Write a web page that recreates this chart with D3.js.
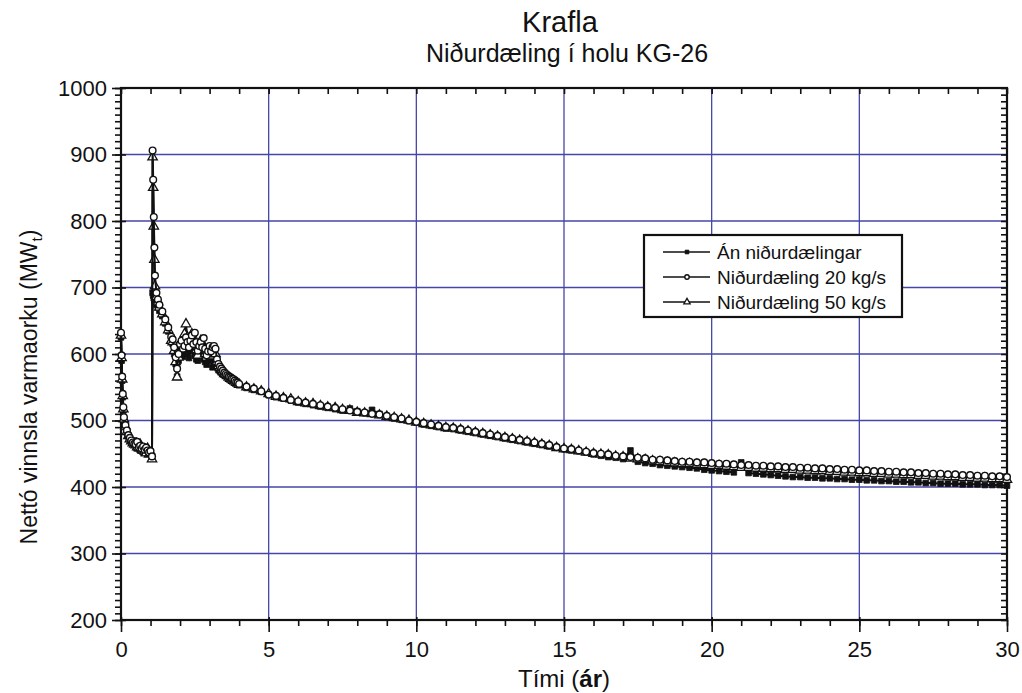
<!DOCTYPE html>
<html>
<head>
<meta charset="utf-8">
<script src="https://d3js.org/d3.v7.min.js"></script>
<style>
  body { margin: 0; background: #fff; }
  text { font-family: "Liberation Sans", Arial, sans-serif; fill: #111; }
</style>
</head>
<body>
<svg width="1022" height="693"></svg>
<script>
// time in years, shared by all three runs
var years = [0, 0.02, 0.04, 0.06, 0.08, 0.1, 0.15, 0.2, 0.25, 0.3, 0.35, 0.4, 0.45, 0.5, 0.55, 0.6, 0.65, 0.7, 0.75, 0.8, 0.85, 0.9, 0.95, 1.0, 1.05,
  1.07, 1.09, 1.11, 1.13, 1.15, 1.2, 1.25, 1.3, 1.4, 1.5, 1.6, 1.7,
  1.75, 1.8, 1.85, 1.9, 1.95, 2.0, 2.05, 2.1, 2.15, 2.2, 2.25, 2.3, 2.35, 2.4, 2.45, 2.5, 2.55, 2.6, 2.65, 2.7, 2.75, 2.8, 2.85, 2.9, 2.95,
  3.0, 3.05, 3.1, 3.15, 3.2, 3.25, 3.3, 3.35, 3.4, 3.45, 3.5, 3.55, 3.6, 3.65, 3.7, 3.75, 3.8, 3.85, 3.9, 3.95, 4.0,
  4.25, 4.5, 4.75, 5, 5.25, 5.5, 5.75, 6, 6.25, 6.5, 6.75, 7, 7.25, 7.5, 7.75, 8, 8.25, 8.5, 8.75, 9,
  9.25, 9.5, 9.75, 10, 10.25, 10.5, 10.75, 11, 11.25, 11.5, 11.75, 12, 12.25, 12.5, 12.75, 13,
  13.25, 13.5, 13.75, 14, 14.25, 14.5, 14.75, 15, 15.25, 15.5, 15.75, 16, 16.25, 16.5, 16.75, 17,
  17.25, 17.5, 17.75, 18, 18.25, 18.5, 18.75, 19, 19.25, 19.5, 19.75, 20, 20.25, 20.5, 20.75, 21,
  21.25, 21.5, 21.75, 22, 22.25, 22.5, 22.75, 23, 23.25, 23.5, 23.75, 24, 24.25, 24.5, 24.75, 25,
  25.25, 25.5, 25.75, 26, 26.25, 26.5, 26.75, 27, 27.25, 27.5, 27.75, 28, 28.25, 28.5, 28.75, 29,
  29.25, 29.5, 29.75, 30];

// Án niðurdælingar (MW)
var anNidurdaelingar = [625, 590, 560, 535, 515, 500, 490, 482, 476, 471, 468, 465, 470, 462, 458, 463, 455, 458, 452, 460, 454, 452, 456, 450, 447,
  692, 688, 684, 681, 678, 674, 670, 665, 657, 646, 634, 622,
  615, 600, 585, 566, 590, 605, 598, 596, 608, 612, 600, 594, 605, 615, 605, 598, 592, 590, 600, 606, 598, 592, 588, 584, 592,
  600, 590, 580, 586, 590, 582, 576, 574, 572, 570, 568, 567, 566, 564, 562, 561, 560, 558, 556, 555, 553,
  549, 546, 543, 538, 535, 533, 530, 527, 525, 523, 521, 519, 517, 515, 518, 514,
  511, 516, 510, 505, 503, 501, 499, 497, 494, 492, 490, 488, 487, 485, 483, 481,
  479, 477, 475, 473, 471, 469, 467, 465, 463, 461, 459, 457, 455, 454, 452, 449,
  447, 445, 444, 442, 455, 438, 436, 435, 433, 432, 431, 430, 429, 428, 426, 425,
  424, 423, 422, 437, 421, 420, 419, 418, 417, 416, 415, 415, 414, 414, 413, 413,
  412, 412, 411, 411, 410, 410, 409, 409, 408, 408, 407, 407, 406, 406, 405, 405,
  405, 404, 404, 404, 403, 403, 403, 402];

// Niðurdæling 20 kg/s
var nidurdaeling20 = [632, 598, 566, 540, 520, 505, 493, 485, 478, 474, 470, 467, 465, 464, 468, 460, 462, 458, 461, 456, 459, 455, 452, 454, 446,
  906, 862, 806, 760, 718, 692, 682, 674, 664, 652, 640, 626,
  622, 610, 595, 578, 600, 615, 620, 608, 612, 625, 618, 610, 620, 628, 615, 632, 618, 605, 612, 618, 610, 624, 608, 598, 604,
  612, 604, 610, 612, 608, 592, 585, 581, 578, 575, 572, 570, 568, 566, 565, 563, 562, 560, 558, 557, 555,
  551, 548, 544, 539, 537, 534, 531, 529, 527, 525, 523, 521, 519, 517, 515, 513,
  512, 510, 509, 507, 505, 503, 500, 498, 496, 494, 492, 490, 489, 487, 485, 483,
  481, 479, 477, 475, 473, 471, 469, 467, 465, 463, 460, 458, 457, 455, 453, 451,
  450, 449, 447, 446, 445, 444, 443, 441, 441, 440, 439, 438, 438, 437, 437, 436,
  435, 435, 434, 433, 433, 432, 432, 431, 431, 430, 430, 429, 429, 428, 428, 427,
  427, 426, 426, 425, 425, 424, 424, 423, 423, 422, 422, 421, 421, 420, 420, 419,
  419, 418, 418, 417, 417, 416, 416, 415];

// Niðurdæling 50 kg/s
var nidurdaeling50 = [628, 594, 562, 537, 517, 502, 491, 483, 477, 472, 469, 466, 464, 463, 460, 459, 464, 457, 455, 454, 451, 458, 449, 450, 442,
  896, 850, 792, 742, 702, 686, 678, 670, 660, 648, 636, 620,
  618, 605, 588, 565, 595, 612, 615, 620, 630, 645, 625, 615, 625, 630, 618, 612, 606, 598, 610, 620, 612, 610, 600, 595, 600,
  605, 596, 598, 602, 600, 588, 582, 579, 576, 573, 570, 569, 567, 565, 563, 562, 560, 559, 557, 556, 554,
  550, 547, 544, 540, 536, 534, 532, 528, 526, 525, 522, 520, 519, 516, 515, 512,
  511, 510, 508, 506, 504, 502, 500, 497, 495, 493, 491, 489, 488, 486, 484, 482,
  480, 478, 476, 474, 472, 470, 468, 466, 464, 462, 459, 457, 456, 454, 452, 450,
  449, 448, 446, 445, 443, 442, 441, 439, 438, 437, 436, 435, 435, 434, 433, 432,
  432, 431, 430, 429, 429, 428, 428, 427, 427, 426, 426, 425, 425, 424, 424, 423,
  423, 422, 422, 421, 421, 420, 420, 419, 419, 418, 418, 417, 417, 416, 416, 415,
  415, 414, 414, 413, 413, 412, 412, 411];

var seriesNames = ["Án niðurdælingar", "Niðurdæling 20 kg/s", "Niðurdæling 50 kg/s"];
var xTicks = [0, 5, 10, 15, 20, 25, 30];
var yTicks = [200, 300, 400, 500, 600, 700, 800, 900, 1000];

var svg = d3.select("svg");
var pLeft = 121, pRight = 1007, pTop = 88, pBottom = 620;
var gridColor = "#4646a8";

var x = d3.scaleLinear().domain([0, 30]).range([pLeft, pRight]);
var y = d3.scaleLinear().domain([200, 1000]).range([pBottom, pTop]);

// titles
svg.append("text").attr("x", 560).attr("y", 32).attr("text-anchor", "middle")
  .attr("font-size", 29).text("Krafla");
svg.append("text").attr("x", 567).attr("y", 62).attr("text-anchor", "middle")
  .attr("font-size", 25).text("Niðurdæling í holu KG-26");

// grid
svg.append("g").selectAll("line").data(xTicks.slice(1, -1)).join("line")
  .attr("x1", d => x(d)).attr("x2", d => x(d)).attr("y1", pTop).attr("y2", pBottom)
  .attr("stroke", gridColor).attr("stroke-width", 1.3);
svg.append("g").selectAll("line").data(yTicks.slice(1, -1)).join("line")
  .attr("x1", pLeft).attr("x2", pRight).attr("y1", d => y(d)).attr("y2", d => y(d))
  .attr("stroke", gridColor).attr("stroke-width", 1.3);

function bare(g) {
  g.select(".domain").remove();
  g.selectAll("line").attr("stroke", "#111").attr("stroke-width", 1.6);
}
function labels(g) {
  g.selectAll("text").attr("font-size", 22)
    .attr("font-family", "Liberation Sans, Arial, sans-serif").attr("fill", "#111");
}

var minorX = d3.range(0, 31, 1);
var minorY = d3.range(200, 1001, 10);

// bottom axis: labels + long major ticks, short minor ticks
svg.append("g").attr("transform", "translate(0," + (pBottom - 3) + ")")
  .call(d3.axisBottom(x).tickValues(xTicks).tickSize(15).tickPadding(9).tickFormat(d3.format("d")))
  .call(bare).call(labels);
svg.append("g").attr("transform", "translate(0," + pBottom + ")")
  .call(d3.axisBottom(x).tickValues(minorX).tickSize(6).tickFormat(""))
  .call(bare);
// top axis: ticks point into the plot
svg.append("g").attr("transform", "translate(0," + pTop + ")")
  .call(d3.axisBottom(x).tickValues(minorX).tickSize(6).tickFormat(""))
  .call(bare);

// left axis
svg.append("g").attr("transform", "translate(" + pLeft + ",0)")
  .call(d3.axisLeft(y).tickValues(yTicks).tickSize(9).tickPadding(5).tickFormat(d3.format("d")))
  .call(bare).call(labels);
svg.append("g").attr("transform", "translate(" + pLeft + ",0)")
  .call(d3.axisRight(y).tickValues(yTicks).tickSize(5).tickFormat(""))
  .call(bare);
svg.append("g").attr("transform", "translate(" + pLeft + ",0)")
  .call(d3.axisLeft(y).tickValues(minorY).tickSize(6).tickFormat(""))
  .call(bare);
// right axis: ticks point inward
svg.append("g").attr("transform", "translate(" + pRight + ",0)")
  .call(d3.axisLeft(y).tickValues(minorY).tickSize(6).tickFormat(""))
  .call(bare);

// frame
svg.append("rect").attr("x", pLeft).attr("y", pTop).attr("width", pRight - pLeft).attr("height", pBottom - pTop)
  .attr("fill", "none").attr("stroke", "#111").attr("stroke-width", 2.2);

// axis titles
svg.append("text").attr("x", 564).attr("y", 687).attr("text-anchor", "middle").attr("font-size", 24)
  .call(t => { t.append("tspan").text("Tími ("); t.append("tspan").attr("font-weight", "bold").text("ár"); t.append("tspan").text(")"); });
svg.append("text").attr("transform", "translate(37,387) rotate(-90)").attr("text-anchor", "middle").attr("font-size", 23)
  .call(t => { t.append("tspan").text("Nettó vinnsla varmaorku (MW"); t.append("tspan").attr("font-size", 15).attr("dy", 5).text("t"); t.append("tspan").attr("dy", -5).text(")"); });

// series
var idx = d3.range(years.length);
var line = d3.line().x(i => x(years[i]));

var plot = svg.append("g");
function drawSeries(vals, shape) {
  plot.append("path").datum(idx)
    .attr("d", line.y(i => y(vals[i])))
    .attr("fill", "none").attr("stroke", "#111").attr("stroke-width", 2);
  var m = plot.append("g").selectAll("path").data(idx).join("path")
    .attr("transform", i => "translate(" + x(years[i]) + "," + y(vals[i]) + ")");
  styleMarker(m, shape, 1.6);
}
function styleMarker(sel, shape, k) {
  if (shape === "square") {
    sel.attr("d", d3.symbol(d3.symbolSquare, 20 * k)).attr("fill", "#111").attr("stroke", "#111").attr("stroke-width", 0.8);
  } else if (shape === "circle") {
    sel.attr("d", d3.symbol(d3.symbolCircle, 22 * k)).attr("fill", "#fff").attr("stroke", "#111").attr("stroke-width", 1.4);
  } else {
    sel.attr("d", d3.symbol(d3.symbolTriangle, 24 * k)).attr("fill", "#fff").attr("stroke", "#111").attr("stroke-width", 1.3);
  }
}
drawSeries(anNidurdaelingar, "square");
drawSeries(nidurdaeling50, "triangle");
drawSeries(nidurdaeling20, "circle");

// legend
var lg = svg.append("g");
lg.append("rect").attr("x", 644).attr("y", 235).attr("width", 258).attr("height", 82)
  .attr("fill", "#fff").attr("stroke", "#111").attr("stroke-width", 2.2);
var shapes = ["square", "circle", "triangle"];
seriesNames.forEach(function(name, k) {
  var ly = 252 + k * 25;
  lg.append("line").attr("x1", 663).attr("x2", 710).attr("y1", ly).attr("y2", ly)
    .attr("stroke", "#111").attr("stroke-width", 1.6);
  styleMarker(lg.append("path").attr("transform", "translate(687," + ly + ")"), shapes[k], 0.7);
  lg.append("text").attr("x", 717).attr("y", ly + 7).attr("font-size", 19).text(name);
});
</script>
</body>
</html>
